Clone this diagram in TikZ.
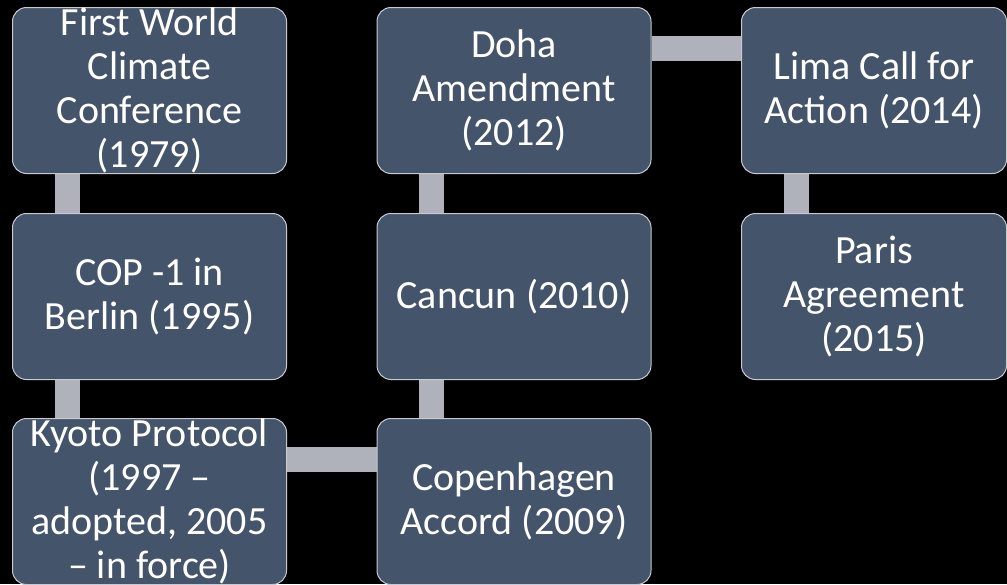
\documentclass[tikz,border=0pt]{standalone}
\usepackage{fontspec}
\setmainfont{Carlito}
\usetikzlibrary{backgrounds}
\definecolor{boxfill}{HTML}{44546A}
\definecolor{boxline}{HTML}{C8CACF}
\definecolor{barcol}{HTML}{AFB2BA}
\tikzset{
  box/.style={draw=boxline, line width=1pt, fill=boxfill, rounded corners=14pt,
    minimum width=274pt, minimum height=166pt, anchor=north west, inner sep=0pt,
    text=white, align=center, font=\fontsize{40}{44}\selectfont},
  bar/.style={draw=barcol, line width=25pt}
}
\begin{document}
\begin{tikzpicture}[x=1pt,y=-1pt]
\useasboundingbox (0,0) rectangle (1007,584);
\node[box] (n1) at (12,7) {First World\\Climate\\Conference\\(1979)};
\node[box] (n2) at (12,213) {COP -1 in\\Berlin (1995)};
\node[box] (n3) at (12,418) {Kyoto Protocol\\(1997 –\\adopted, 2005\\– in force)};
\node[box] (n4) at (376.5,418) {Copenhagen\\Accord (2009)};
\node[box] (n5) at (376.5,213) {Cancun (2010)};
\node[box] (n6) at (376.5,7) {Doha\\Amendment\\(2012)};
\node[box, minimum width=265pt] (n7) at (741,7) {Lima Call for\\Action (2014)};
\node[box, minimum width=265pt] (n8) at (741,213) {Paris\\Agreement\\(2015)};
\begin{scope}[on background layer]
\fill[black] (0,0) rectangle (1007,584);
\draw[bar] ([xshift=55pt]n1.south west) -- ([xshift=55pt]n2.north west);
\draw[bar] ([xshift=55pt]n2.south west) -- ([xshift=55pt]n3.north west);
\draw[bar] ([yshift=-41pt]n3.north east) -- ([yshift=-41pt]n4.north west);
\draw[bar] ([xshift=55pt]n4.north west) -- ([xshift=55pt]n5.south west);
\draw[bar] ([xshift=55pt]n5.north west) -- ([xshift=55pt]n6.south west);
\draw[bar] ([yshift=-41pt]n6.north east) -- ([yshift=-41pt]n7.north west);
\draw[bar] ([xshift=55pt]n7.south west) -- ([xshift=55pt]n8.north west);
\end{scope}
\end{tikzpicture}
\end{document}
